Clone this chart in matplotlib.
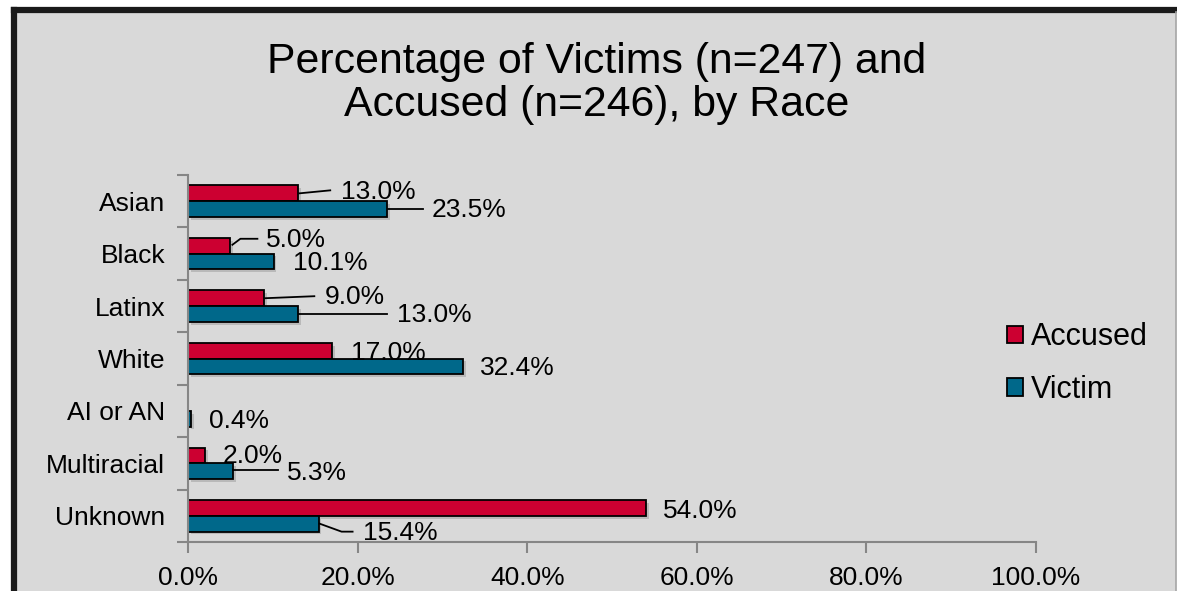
import numpy as np
import matplotlib
matplotlib.use("Agg")
import matplotlib.pyplot as plt
import matplotlib.patheffects as pe
from matplotlib.patches import Rectangle, Patch
from matplotlib.lines import Line2D

plt.rcParams['font.family'] = ['Liberation Sans', 'DejaVu Sans']

# data
races = ["Asian", "Black", "Latinx", "White", "AI or AN", "Multiracial", "Unknown"]
accused = [13.0, 5.0, 9.0, 17.0, 0.0, 2.0, 54.0]
victim = [23.5, 10.1, 13.0, 32.4, 0.4, 5.3, 15.4]
x_ticks = [0, 20, 40, 60, 80, 100]

# label placement (pixel offsets from bar end, y down) and leader lines
acc_off = [(43, -1), (36, -6), (60, -1), (19, 2), None, (18, 1), (17, 3)]
acc_lead = [[(1, 0), (32, -3)], [(2, -1), (10, -7), (27, -7)], [(1, 0), (50, -2)],
            None, None, None, None]
vic_off = [(44, 1), (19, 1), (99, 1), (17, 2), (18, 2), (54, 2), (44, 9)]
vic_lead = [[(1, 0), (36, 0)], None, [(1, 0), (89, 0)], None, None,
            [(0, -1), (45, -1)], [(1, 0), (23, 8), (34, 8)]]

W, H = 1177, 591
red = '#CC0031'
teal = '#00688A'
bg = '#D9D9D9'

fig = plt.figure(figsize=(W / 100, H / 100), dpi=100)
fig.patch.set_facecolor('white')

# chart frame
fig.patches.append(Rectangle((14 / W, -0.05), (1176 - 14) / W, (H - 10) / H + 0.05,
                             transform=fig.transFigure, facecolor=bg, edgecolor='none', zorder=-2))
fig.lines.append(Line2D([14 / W, 14 / W], [-0.05, (H - 10) / H], transform=fig.transFigure,
                        color='#1A1A1A', lw=4.5, solid_capstyle='projecting', zorder=-1))
fig.lines.append(Line2D([14 / W, 1176 / W], [(H - 10) / H, (H - 10) / H], transform=fig.transFigure,
                        color='#1A1A1A', lw=4.5, solid_capstyle='projecting', zorder=-1))
fig.lines.append(Line2D([1176 / W, 1176 / W], [-0.05, (H - 12) / H], transform=fig.transFigure,
                        color='#A6A6A6', lw=1.2, zorder=-1))

ax = fig.add_axes([188 / W, (H - 542) / H, (1036 - 188) / W, (542 - 175) / H])
ax.set_facecolor('none')

y = np.arange(len(races))
h = 0.3
shadow = [pe.SimplePatchShadow(offset=(2, -2), shadow_rgbFace='#7F7F7F', alpha=0.35), pe.Normal()]
bars_a = ax.barh(y - h / 2, accused, height=h, color=red, edgecolor='black', linewidth=1.3, label='Accused')
bars_v = ax.barh(y + h / 2, victim, height=h, color=teal, edgecolor='black', linewidth=1.3, label='Victim')
for b in list(bars_a) + list(bars_v):
    if b.get_width() > 0:
        b.set_path_effects(shadow)
    else:
        b.set_visible(False)

ax.set_xlim(0, 100)
ax.set_ylim(len(races) - 0.5, -0.5)

for s in ['top', 'right']:
    ax.spines[s].set_visible(False)
for s in ['left', 'bottom']:
    ax.spines[s].set_color('#868686')
    ax.spines[s].set_linewidth(1.5)

ax.set_xticks(x_ticks)
ax.set_xticklabels([f"{v:.1f}%" for v in x_ticks], fontsize=19)
ax.tick_params(axis='x', length=8, width=1.5, color='#868686', pad=9)
ax.set_yticks(np.arange(len(races) + 1) - 0.5)
ax.set_yticklabels([])
ax.set_yticks(y, minor=True)
ax.set_yticklabels(races, minor=True, fontsize=19)
ax.tick_params(axis='y', which='major', length=8, width=1.5, color='#868686')
ax.tick_params(axis='y', which='minor', length=0, pad=16.5)

fig.canvas.draw()


def to_disp(xd, yd, dx, dy):
    px, py = ax.transData.transform((xd, yd))
    return px + dx, py - dy


for vals, offs, leads, dy0 in [(accused, acc_off, acc_lead, -h / 2), (victim, vic_off, vic_lead, h / 2)]:
    for i, v in enumerate(vals):
        if offs[i] is None:
            continue
        tx, ty = to_disp(v, i + dy0, *offs[i])
        fig.text(tx / W, ty / H, f"{v:.1f}%", fontsize=19, ha='left', va='center')
        if leads[i]:
            pts = [to_disp(v, i + dy0, dx, dy) for dx, dy in leads[i]]
            fig.lines.append(Line2D([p[0] / W for p in pts], [p[1] / H for p in pts],
                                    transform=fig.transFigure, color='black', lw=1.3))

fig.text(597 / W, 1 - 62 / H, "Percentage of Victims (n=247) and", fontsize=30.8, ha='center', va='center')
fig.text(597 / W, 1 - 105 / H, "Accused (n=246), by Race", fontsize=30.8, ha='center', va='center')

handles = [Patch(facecolor=red, edgecolor='black', linewidth=1.3),
           Patch(facecolor=teal, edgecolor='black', linewidth=1.3)]
fig.legend(handles, ['Accused', 'Victim'], loc='center left',
           bbox_to_anchor=(1007 / W, 1 - 363.5 / H), frameon=False, fontsize=22,
           handlelength=0.52, handleheight=0.52, handletextpad=0.26, labelspacing=0.73,
           borderpad=0, borderaxespad=0)

fig.savefig('out.png', dpi=100, facecolor='white')
